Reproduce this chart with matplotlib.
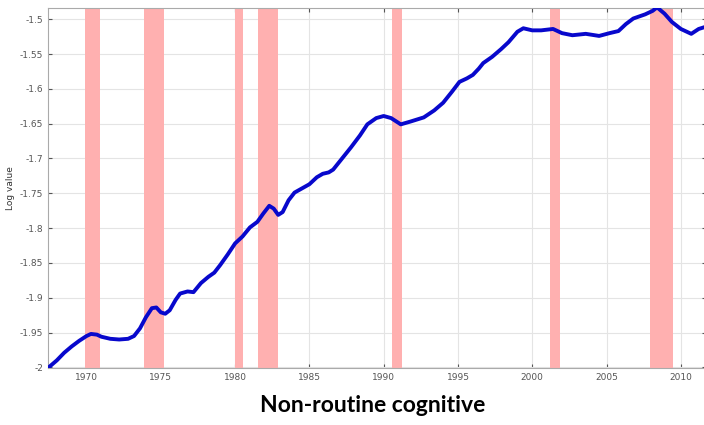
import matplotlib
matplotlib.use('Agg')
import matplotlib.pyplot as plt
import numpy as np

# log value of non-routine cognitive employment share
years = [1967.4, 1968.0, 1968.5, 1969.0, 1969.5, 1970.0, 1970.3, 1970.7, 1971.0, 1971.6,
         1972.2, 1972.8, 1973.2, 1973.6, 1974.0, 1974.4, 1974.7, 1975.0, 1975.3, 1975.6,
         1976.0, 1976.3, 1976.8, 1977.2, 1977.7, 1978.2, 1978.6, 1979.0, 1979.5, 1980.0,
         1980.5, 1981.0, 1981.5, 1981.9, 1982.3, 1982.6, 1982.9, 1983.2, 1983.6, 1984.0,
         1984.5, 1985.0, 1985.5, 1985.9, 1986.3, 1986.6, 1987.2, 1987.8, 1988.4, 1988.9,
         1989.5, 1990.0, 1990.5, 1991.15, 1991.8, 1992.7, 1993.4, 1994.0, 1994.6, 1995.1,
         1995.6, 1996.0, 1996.4, 1996.7, 1997.3, 1997.9, 1998.4, 1999.0, 1999.4, 2000.0,
         2000.6, 2001.4, 2002.0, 2002.7, 2003.6, 2004.5, 2005.2, 2005.8, 2006.3, 2006.8,
         2007.6, 2008.1, 2008.4, 2008.9, 2009.4, 2010.0, 2010.7, 2011.2, 2011.8]
log_value = [-2.001, -1.99, -1.979, -1.97, -1.962, -1.955, -1.952, -1.953, -1.956, -1.959,
             -1.96, -1.959, -1.955, -1.944, -1.928, -1.915, -1.914, -1.921, -1.923, -1.918,
             -1.903, -1.894, -1.891, -1.892, -1.879, -1.87, -1.864, -1.853, -1.838, -1.822,
             -1.812, -1.799, -1.791, -1.779, -1.768, -1.772, -1.781, -1.777, -1.76, -1.749,
             -1.743, -1.737, -1.727, -1.722, -1.72, -1.716, -1.700, -1.684, -1.667, -1.651,
             -1.642, -1.639, -1.642, -1.651, -1.647, -1.641, -1.631, -1.62, -1.604, -1.59,
             -1.585, -1.58, -1.571, -1.563, -1.554, -1.543, -1.533, -1.518, -1.513, -1.516,
             -1.516, -1.514, -1.52, -1.523, -1.521, -1.524, -1.52, -1.517, -1.507, -1.499,
             -1.493, -1.488, -1.483, -1.492, -1.504, -1.514, -1.521, -1.514, -1.51]

# NBER recessions
rec_start = [1969.92, 1973.88, 1980.0, 1981.55, 1990.55, 2001.2, 2007.92]
rec_end = [1970.88, 1975.2, 1980.5, 1982.88, 1991.2, 2001.85, 2009.45]

fig = plt.figure(figsize=(7.04, 4.25), dpi=100)
ax = fig.add_axes([0.068, 0.134, 0.935, 0.847])

for s, e in zip(rec_start, rec_end):
    ax.axvspan(s, e, color='#ffb0b0', lw=0, zorder=1)

ax.plot(years, log_value, color='#0808cc', lw=2.8, zorder=3,
        solid_capstyle='round', solid_joinstyle='round')

ax.set_xlim(1967.4, 2011.7)
ax.set_ylim(-2.001, -1.484)
ax.set_xticks(np.arange(1970, 2011, 5))
ax.set_yticks(np.arange(-2.0, -1.49, 0.05))
ax.set_yticklabels(['-2', '-1.95', '-1.9', '-1.85', '-1.8', '-1.75', '-1.7', '-1.65',
                    '-1.6', '-1.55', '-1.5'])
ax.grid(True, color='#e4e4e4', lw=0.8, zorder=0)
ax.set_axisbelow(True)
ax.tick_params(direction='in', labelsize=6.5, colors='#555555', length=3,
               top=True, right=True)
for sp in ax.spines.values():
    sp.set_color('#aaaaaa')
ax.set_ylabel('Log value', fontsize=6.5, color='#333333', labelpad=3)

fig.text(0.53, 0.045, 'Non-routine cognitive', fontsize=16.5, fontweight='bold',
         family='Lato', ha='center', va='center')

fig.savefig('out.png', dpi=100)
